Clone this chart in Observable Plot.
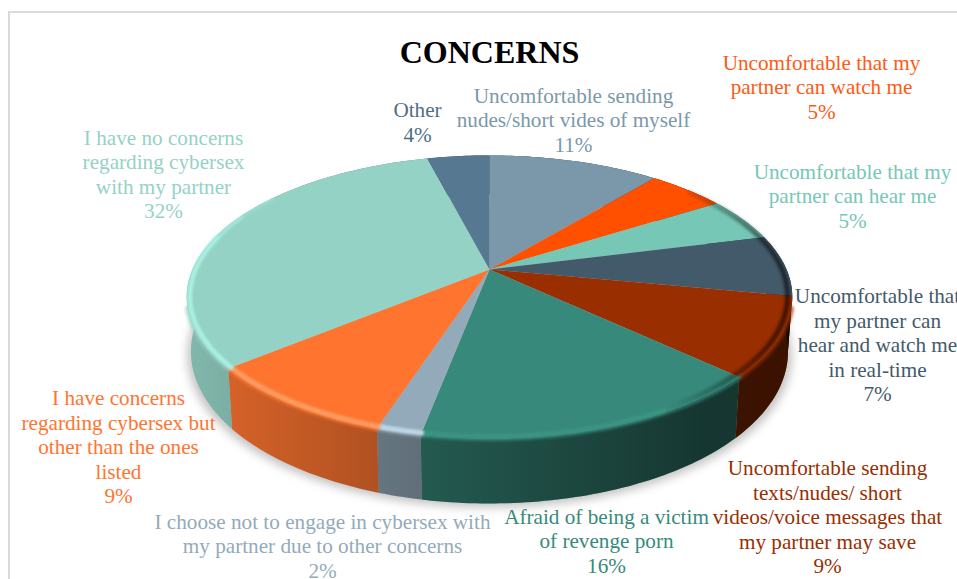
<!DOCTYPE html>
<html>
<head>
<meta charset="utf-8">
<script src="https://cdn.jsdelivr.net/npm/d3@7"></script>
<script src="https://cdn.jsdelivr.net/npm/@observablehq/plot@0.6"></script>
<style>
  html, body { margin: 0; padding: 0; background: #fff; overflow: hidden; }
  #page { position: relative; width: 957px; height: 579px; overflow: hidden; }
  #border { position: absolute; left: 8px; top: 11px; width: 1000px; height: 600px;
            border-top: 2px solid #d9d9d9; border-left: 2px solid #d9d9d9; }
  #chart { position: absolute; left: 0; top: 0; }
  #chart svg { display: block; }
</style>
</head>
<body>
<div id="page"><div id="border"></div><div id="chart"></div></div>
<script>
// Survey answers, clockwise from twelve o'clock
const categories = [
  "Uncomfortable sending\nnudes/short vides of myself",
  "Uncomfortable that my\npartner can watch me",
  "Uncomfortable that my\npartner can hear me",
  "Uncomfortable that\nmy partner can\nhear and watch me\nin real-time",
  "Uncomfortable sending\ntexts/nudes/ short\nvideos/voice messages that\nmy partner may save",
  "Afraid of being a victim\nof revenge porn",
  "I choose not to engage in cybersex with\nmy partner due to other concerns",
  "I have concerns\nregarding cybersex but\nother than the ones\nlisted",
  "I have no concerns\nregarding cybersex\nwith my partner",
  "Other"
];
const shares = [11, 5, 5, 7, 9, 16, 2, 9, 32, 4];
const sliceColors = ["#7a98a9", "#ff5000", "#76c7b6", "#435a6a", "#992e00",
                     "#378a7b", "#93aaba", "#ff7530", "#94d2c5", "#567890"];
const rimColors = ["#7a98a9", "#ff5000", "#76c7b6", "#435a6a", "#992e00",
                   "#3c9383", "#bcd6e6", "#ff9c62", "#a8efe0", "#567890"];
const labelColors = ["#7a98a9", "#ff5a14", "#76c7b6", "#435a6a", "#992e00",
                     "#378a7b", "#93aaba", "#ff7530", "#94d2c5", "#4f6e85"];
const labelX = [573, 821, 852, 877, 827, 606, 322, 118, 163, 417];
const labelY = [119, 86, 195, 344, 516, 540, 545, 446, 173, 121];

// Tilted disc: a perspective mapping of the unit circle onto the page
const apex = [489, 269];
const spreadX = 297, spreadY = 136.2, tilt = 0.194;
const project = (angle, r = 1) => {
  const u = r * Math.sin(angle), v = -r * Math.cos(angle), w = 1 - tilt * v;
  return [apex[0] + spreadX * u / w, apex[1] + spreadY * v / w];
};
// Matching point on the lower edge of the disc's wall
const lower = (angle) => {
  const [x, y] = project(angle);
  return [apex[0] + (x - apex[0]) * 0.986, y + 52 - 13 * Math.cos(angle)];
};

const deg = Math.PI / 180;
const arcs = d3.pie().sort(null).value((d) => d)(shares);
const steps = (a) => d3.range(a.startAngle, a.endAngle, deg).concat(a.endAngle);
const feature = (type, coordinates, color) =>
  ({type: "Feature", properties: {color}, geometry: {type, coordinates}});

const faces = arcs.map((a, i) =>
  feature("Polygon", [[apex, ...steps(a).map((t) => project(t)), apex]], sliceColors[i]));
const walls = arcs.map((a, i) => {
  const ts = steps(a);
  const ring = [...ts.map((t) => project(t)), ...ts.slice().reverse().map(lower)];
  return feature("Polygon", [[...ring, ring[0]]], sliceColors[i]);
});

// Rim pieces per slice, limited to a span of the circumference
const rimPieces = (from, to, r, colors) => arcs.flatMap((a, i) => {
  const ts = steps(a).filter((t) => t >= from * deg && t <= to * deg);
  return ts.length > 1
    ? [feature("LineString", ts.map((t) => project(t, r)), colors[i])]
    : [];
});
const softEdge = rimPieces(105, 255, 1, sliceColors);
const highlight = rimPieces(150, 285, 0.99, rimColors);
const highlightFade = rimPieces(285, 295, 0.99, rimColors);
const highlightFaint = rimPieces(295, 306, 0.993, rimColors);
const darkEdge = feature("LineString", d3.range(50, 150).map((t) => project(t * deg, 0.985)));

const groundShadow = feature("Polygon", [d3.range(0, 362, 2).map((t) => {
  const [x, y] = lower(t * deg);
  return [apex[0] + (x - apex[0]) * 1.012, y + 4];
})]);

const blurred = (px) => (index, scales, values, dimensions, context, next) => {
  const g = next(index, scales, values, dimensions, context);
  g.style.filter = `blur(${px}px)`;
  return g;
};

// Shared gradients for the wall shading and the dark bevel on the right
function gradients() {
  const defs = d3.create("svg:defs");
  const add = (id, stops) => {
    const g = defs.append("linearGradient").attr("id", id)
      .attr("gradientUnits", "userSpaceOnUse")
      .attr("x1", 190).attr("x2", 790).attr("y1", 0).attr("y2", 0);
    for (const [offset, color, opacity] of stops)
      g.append("stop").attr("offset", offset).attr("stop-color", color).attr("stop-opacity", opacity);
  };
  add("wallShade", [[0, "#000", 0.13], [0.35, "#000", 0.33], [0.85, "#000", 0.6], [1, "#000", 0.62]]);
  add("rimShade", [[0, "#000", 0], [0.8, "#000", 0], [0.92, "#000", 0.4], [1, "#000", 0.6]]);
  return defs.node();
}

const labelRows = categories.map((c, i) => ({
  text: `${c}\n${shares[i]}%`, x: labelX[i], y: labelY[i], color: labelColors[i]
}));

const rimStroke = (width, opacity, blur) => ({
  fill: "none", stroke: (d) => d.properties.color,
  strokeWidth: width, strokeOpacity: opacity, render: blurred(blur)
});

const chart = Plot.plot({
  width: 957,
  height: 579,
  margin: 0,
  projection: d3.geoIdentity(),
  style: {background: "transparent"},
  marks: [
    gradients,
    Plot.geo([groundShadow], {fill: "#000", fillOpacity: 0.24, render: blurred(5)}),
    Plot.geo(walls, {fill: (d) => d.properties.color}),
    Plot.geo(walls, {fill: "url(#wallShade)"}),
    Plot.geo(faces, {fill: (d) => d.properties.color}),
    Plot.geo(softEdge, rimStroke(5, 0.75, 1.8)),
    Plot.geo(highlight, rimStroke(5, 1, 1.2)),
    Plot.geo(highlightFade, rimStroke(4, 0.7, 1.2)),
    Plot.geo(highlightFaint, rimStroke(3, 0.4, 1.2)),
    Plot.geo([darkEdge], {fill: "none", stroke: "url(#rimShade)", strokeWidth: 5, render: blurred(1.4)}),
    Plot.text(labelRows, {
      x: "x", y: "y", text: "text", fill: "color",
      fontFamily: "Liberation Serif", fontSize: 21.2, lineHeight: 1.155, lineAnchor: "middle"
    }),
    Plot.text(["CONCERNS"], {
      x: [489], y: [52], text: (d) => d, fill: "#000", fontWeight: "bold",
      fontFamily: "Liberation Serif", fontSize: 32, lineAnchor: "middle"
    })
  ]
});
document.getElementById("chart").appendChild(chart);
</script>
</body>
</html>
